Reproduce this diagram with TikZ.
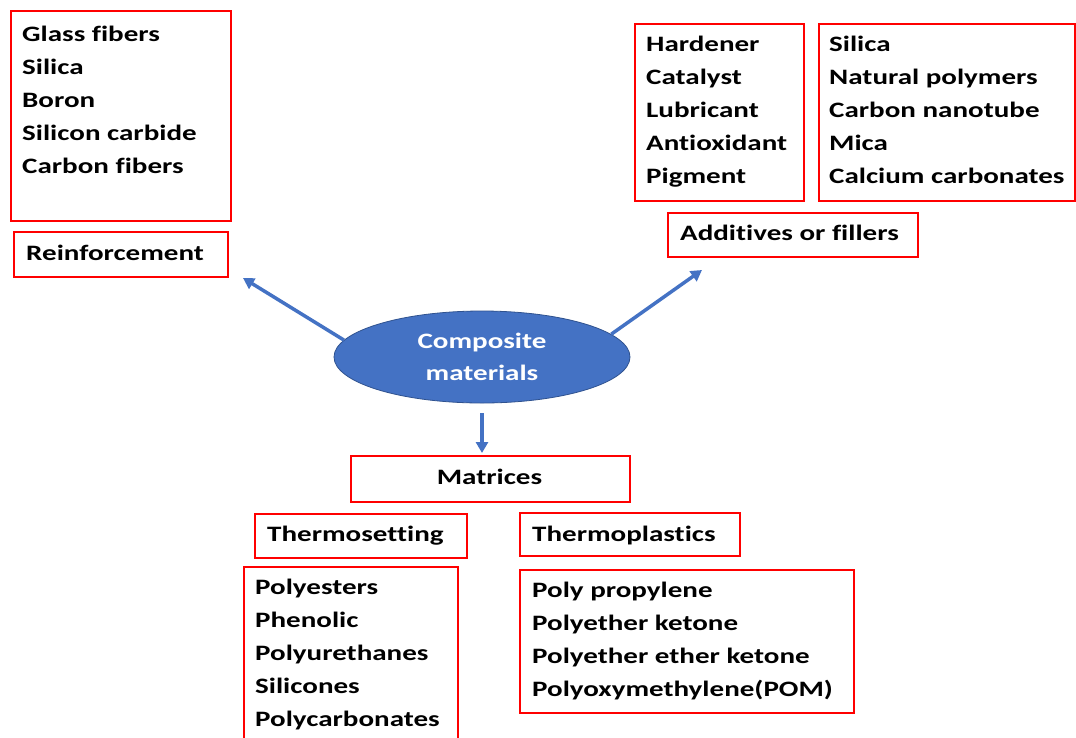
\documentclass[tikz,border=0pt]{standalone}
\usepackage{fontspec}
\setmainfont{Carlito}[FakeStretch=1.32, Ligatures=NoCommon]
\usetikzlibrary{arrows.meta,shapes.geometric}
\definecolor{boxred}{HTML}{FF0000}
\definecolor{arrowblue}{HTML}{4472C4}
\definecolor{ellborder}{HTML}{2F528F}
\begin{document}
\begin{tikzpicture}[x=1pt,y=-1pt,
  redbox/.style={draw=boxred, line width=1.5pt, inner sep=0pt, anchor=north west},
  txt/.style={font=\fontsize{22}{33}\selectfont\bfseries, inner sep=0pt, align=left, anchor=north west},
  arr/.style={draw=arrowblue, line width=3.5pt, -{Triangle[length=11pt,width=12pt]}},
]
\useasboundingbox (0,0) rectangle (1076,737);
\fill[white] (0,0) rectangle (1076,737);
\begin{scope}
\clip (0,0) rectangle (1076,737);
% boxes
\node[redbox, minimum width=220, minimum height=210] (rlist) at (10,10) {};
\node[redbox, minimum width=214, minimum height=45] (reinf) at (13,231) {};
\node[redbox, minimum width=169, minimum height=177] (hard) at (634,23) {};
\node[redbox, minimum width=256, minimum height=177] (fill) at (818,23) {};
\node[redbox, minimum width=250, minimum height=44] (addit) at (667,212) {};
\node[redbox, minimum width=279, minimum height=46] (matr) at (350,455) {};
\node[redbox, minimum width=212, minimum height=44] (tset) at (254,513) {};
\node[redbox, minimum width=220, minimum height=43] (tplas) at (519,512) {};
\node[redbox, minimum width=214, minimum height=190] (tsetlist) at (243,566) {};
\node[redbox, minimum width=334, minimum height=143] (tplaslist) at (519,569) {};
\end{scope}
% texts
\node[txt] (t1) at (22,25.5) {Glass fibers\\Silica\\Boron\\Silicon carbide\\Carbon fibers};
\node[txt] (t2) at (26,245) {Reinforcement};
\node[txt] (t3) at (646,36) {Hardener\\Catalyst\\Lubricant\\Antioxidant\\Pigment};
\node[txt] (t4) at (829,36) {Silica\\Natural polymers\\Carbon nanotube\\Mica\\Calcium carbonates};
\node[txt] (t5) at (680,225) {Additives or fillers};
\node[txt, anchor=north] (t6) at (489.5,469) {Matrices};
\node[txt] (t7) at (267,526) {Thermosetting};
\node[txt] (t8) at (532,526) {Thermoplastics};
\node[txt] (t9) at (255,579) {Polyesters\\Phenolic\\Polyurethanes\\Silicones\\Polycarbonates};
\node[txt] (t10) at (532,582) {Poly propylene\\Polyether ketone\\Polyether ether ketone\\Polyoxymethylene(POM)};
% centre
\node[ellipse, fill=arrowblue, draw=ellborder, line width=0.8pt, minimum width=296, minimum height=92, inner sep=0pt,
      text=white, font=\fontsize{22}{32}\selectfont\bfseries, align=center] (comp) at (482,357) {Composite\\materials};
% arrows
\coordinate (ltip) at (243,278);
\coordinate (rtip) at (702,270);
\draw[arr] (comp.173) -- (ltip);
\draw[arr] (comp.10) -- (rtip);
\draw[arr, shorten <=10pt, shorten >=2pt] (comp.south) -- (comp.south |- matr.north);
\end{tikzpicture}
\end{document}
